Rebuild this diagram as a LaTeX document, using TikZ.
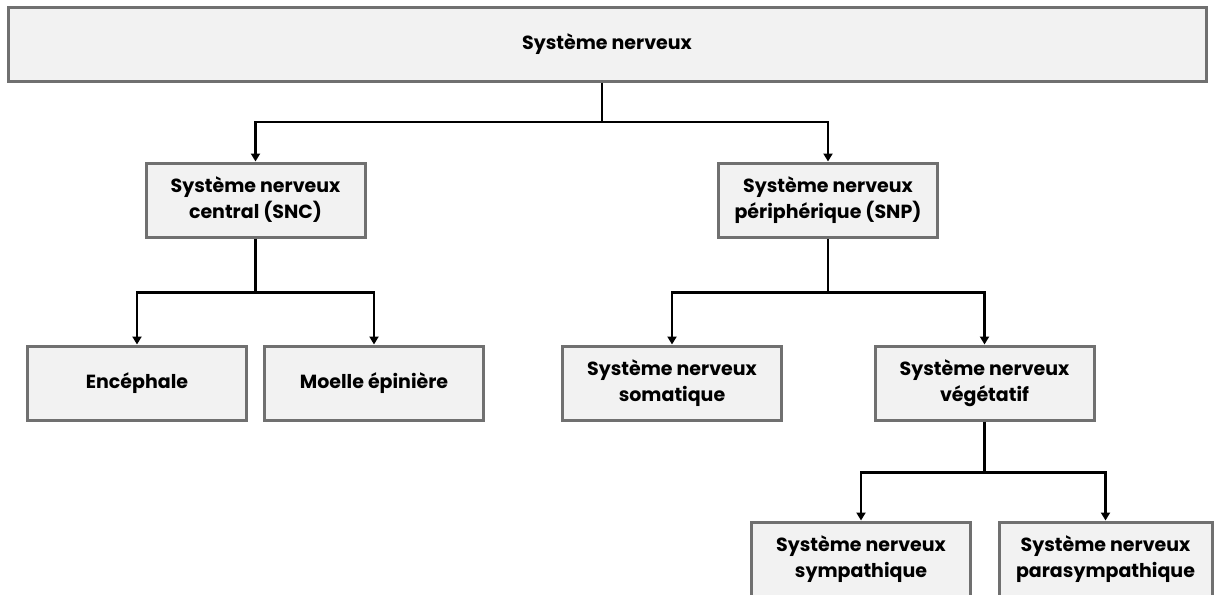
\documentclass[tikz,border=0pt]{standalone}
\usepackage{fontspec}
\setmainfont{Poppins}
\usepackage{tikz}
\usetikzlibrary{arrows.meta}

\definecolor{boxfill}{RGB}{242,242,242}
\definecolor{boxline}{RGB}{112,112,112}

\begin{document}
\begin{tikzpicture}[
                x=1pt, y=-1pt,
                every node/.style={rectangle, draw=boxline, line width=3pt, fill=boxfill, align=center, inner sep=0pt,
                  font=\fontsize{19}{26}\selectfont\bfseries}, % boxes
                sysbox/.style={minimum width=219pt, minimum height=74pt}, % Adjust box size
                link/.style={draw, line width=2.8pt}, % Styling for lines
                arrowlink/.style={link, -{Triangle[width=9pt,length=8pt]}}
                ]
                \useasboundingbox (0,0) rectangle (1214,594);
                \node[minimum width=1198pt, minimum height=73pt] (sn) at (607,44.5) {Système nerveux};
                \node[sysbox] (snc) at (255.5,200) {Système nerveux\\central (SNC)};
                \node[sysbox] (snp) at (828,200) {Système nerveux\\périphérique (SNP)};
                \node[sysbox] (enc) at (137,383) {Encéphale};
                \node[sysbox] (moe) at (374,383) {Moelle épinière};
                \node[sysbox] (som) at (672,383) {Système nerveux\\somatique};
                \node[sysbox] (veg) at (984.5,383) {Système nerveux\\végétatif};
                \node[sysbox] (sym) at (861,559) {Système nerveux\\sympathique};
                \node[sysbox, minimum width=213pt] (par) at (1105.5,559) {Système nerveux\\parasympathique};
                % forks
                \coordinate (snfork) at (602,122);
                \draw[link] (sn.south -| snfork) -- (snfork);
                \draw[arrowlink] (snfork) -| (snc.north);
                \draw[arrowlink] (snfork) -| (snp.north);
                \draw[link] (snc.south) -- ++(0,54) coordinate (sncfork);
                \draw[arrowlink] (sncfork) -| (enc.north);
                \draw[arrowlink] (sncfork) -| (moe.north);
                \draw[link] (snp.south) -- ++(0,54) coordinate (snpfork);
                \draw[arrowlink] (snpfork) -| (som.north);
                \draw[arrowlink] (snpfork) -| (veg.north);
                \draw[link] (veg.south) -- ++(0,51) coordinate (vegfork);
                \draw[arrowlink] (vegfork) -| (sym.north);
                \draw[arrowlink] (vegfork) -| (par.north);
            \end{tikzpicture}
\end{document}
